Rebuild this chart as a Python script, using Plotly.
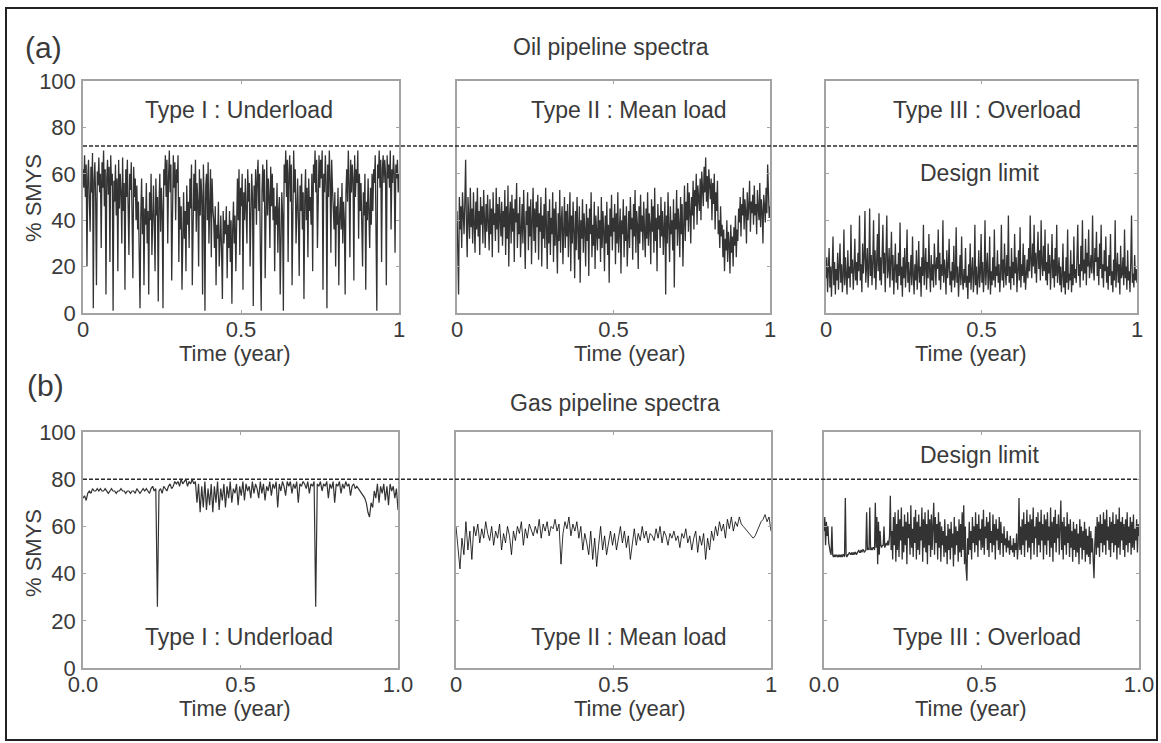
import numpy as np
import plotly.graph_objects as go

W, H = 1161, 743

# ---- load histories (% SMYS), evenly sampled over one year ----
oil_underload = [
    62, 54, 68, 50, 64, 20, 58, 66, 48, 35, 63, 52, 69, 2, 57, 65, 49, 12, 61, 55,
    67, 52, 60, 28, 65, 54, 70, 46, 62, 8, 58, 66, 51, 63, 22, 68, 55, 60, 1, 57,
    48, 64, 42, 58, 18, 66, 45, 60, 52, 30, 67, 44, 56, 10, 62, 50, 66, 47, 25, 60,
    53, 65, 46, 15, 63, 50, 58, 40, 55, 36, 48, 20, 2, 42, 58, 34, 50, 12, 45, 38,
    56, 30, 44, 8, 52, 40, 60, 25, 46, 55, 38, 18, 58, 42, 50, 5, 48, 60, 35, 54,
    44, 2, 62, 55, 68, 50, 66, 30, 58, 70, 52, 64, 14, 60, 68, 54, 65, 40, 62, 56,
    68, 22, 50, 36, 46, 10, 40, 52, 32, 44, 18, 55, 38, 48, 28, 58, 45, 64, 12, 52,
    60, 44, 66, 35, 56, 48, 20, 62, 42, 58, 50, 8, 64, 46, 1, 55, 60, 40, 65, 30,
    52, 62, 24, 58, 45, 40, 28, 46, 12, 38, 32, 48, 20, 36, 42, 26, 6, 44, 30, 40,
    34, 46, 15, 38, 28, 44, 22, 40, 4, 36, 48, 30, 42, 18, 50, 58, 40, 62, 25, 54,
    46, 60, 10, 52, 40, 58, 44, 30, 62, 48, 56, 20, 42, 60, 50, 3, 55, 45, 62, 38,
    58, 66, 44, 60, 24, 1, 52, 64, 48, 62, 15, 56, 66, 42, 58, 50, 28, 63, 46, 60,
    40, 54, 18, 46, 38, 56, 26, 44, 50, 8, 36, 52, 42, 1, 64, 56, 70, 50, 66, 22,
    60, 68, 48, 64, 12, 58, 70, 52, 62, 30, 46, 58, 40, 16, 55, 44, 60, 36, 52, 6,
    48, 62, 40, 54, 24, 58, 44, 50, 38, 60, 18, 64, 56, 70, 52, 66, 28, 62, 68, 54,
    66, 58, 70, 10, 60, 52, 68, 56, 2, 64, 50, 70, 58, 26, 66, 54, 44, 36, 52, 20,
    46, 38, 54, 12, 42, 50, 36, 56, 30, 48, 40, 8, 52, 62, 48, 70, 56, 24, 66, 52,
    64, 58, 14, 68, 50, 62, 56, 70, 32, 60, 44, 56, 38, 20, 52, 42, 60, 10, 48, 40,
    58, 46, 28, 54, 38, 60, 44, 62, 56, 68, 30, 1, 64, 58, 70, 54, 66, 22, 62, 68,
    56, 66, 60, 12, 68, 58, 64, 54, 70, 36, 62, 56, 68, 60, 26, 64, 58, 66, 52, 60,
]

oil_meanload = [
    44, 30, 8, 50, 36, 46, 28, 52, 40, 34, 48, 66, 38, 24, 50, 42, 32, 54, 37, 45,
    30, 52, 40, 26, 48, 36, 54, 33, 44, 25, 50, 38, 46, 30, 53, 42, 28, 47, 35, 51,
    40, 27, 49, 34, 45, 24, 52, 38, 43, 31, 54, 36, 47, 26, 50, 41, 33, 48, 29, 44,
    37, 53, 25, 46, 32, 55, 20, 42, 48, 30, 51, 35, 45, 22, 49, 39, 56, 28, 43, 34,
    50, 24, 41, 47, 30, 53, 36, 19, 44, 38, 52, 27, 46, 33, 49, 21, 40, 54, 31, 45,
    26, 48, 37, 51, 23, 43, 35, 50, 20, 42, 32, 47, 28, 54, 38, 19, 44, 30, 49, 25,
    41, 34, 52, 22, 45, 29, 48, 36, 17, 43, 31, 53, 26, 40, 46, 21, 38, 50, 28, 44,
    33, 47, 24, 39, 52, 18, 42, 30, 48, 35, 15, 44, 27, 50, 37, 23, 46, 13, 40, 32,
    49, 26, 43, 36, 20, 47, 31, 41, 16, 45, 34, 52, 24, 38, 29, 48, 19, 42, 35, 27,
    46, 32, 40, 22, 50, 28, 44, 36, 18, 42, 30, 48, 25, 38, 13, 45, 33, 51, 27, 41,
    35, 47, 21, 43, 30, 52, 26, 39, 45, 17, 40, 34, 49, 24, 42, 31, 46, 20, 38, 44,
    28, 50, 36, 41, 23, 47, 33, 53, 26, 44, 38, 19, 46, 30, 51, 35, 42, 27, 48, 37,
    24, 45, 32, 52, 29, 43, 38, 21, 49, 35, 46, 26, 54, 31, 41, 18, 47, 36, 42, 28,
    50, 33, 44, 25, 39, 48, 8, 42, 30, 52, 37, 22, 46, 34, 40, 27, 49, 11, 43, 36,
    53, 29, 45, 38, 24, 50, 34, 47, 20, 42, 55, 31, 48, 40, 56, 35, 52, 44, 30, 50,
    42, 57, 36, 53, 46, 60, 38, 55, 48, 44, 58, 40, 61, 50, 46, 63, 52, 67, 48, 59,
    45, 62, 54, 49, 58, 40, 56, 47, 60, 36, 52, 44, 57, 34, 40, 28, 46, 33, 38, 24,
    36, 18, 32, 27, 40, 22, 35, 30, 17, 38, 26, 33, 20, 37, 29, 42, 24, 36, 31, 45,
    39, 50, 33, 47, 42, 54, 36, 49, 44, 30, 52, 40, 46, 57, 35, 48, 43, 51, 38, 55,
    42, 47, 34, 53, 45, 40, 56, 37, 49, 44, 30, 51, 46, 39, 54, 43, 64, 48, 41, 46,
]

oil_overload = [
    15, 24, 9, 18, 28, 11, 20, 7, 16, 33, 12, 22, 8, 19, 14, 26, 10, 17, 30, 13,
    21, 9, 16, 36, 12, 24, 18, 8, 27, 15, 20, 11, 38, 17, 23, 10, 19, 32, 14, 22,
    12, 26, 18, 42, 14, 21, 9, 30, 17, 24, 44, 13, 20, 28, 11, 19, 45, 16, 25, 12,
    22, 40, 15, 27, 10, 20, 34, 18, 43, 14, 24, 12, 21, 38, 17, 26, 9, 23, 42, 15,
    19, 28, 11, 22, 35, 14, 25, 8, 18, 30, 13, 21, 10, 26, 16, 39, 12, 20, 7, 24,
    15, 28, 11, 19, 36, 13, 22, 9, 17, 25, 12, 33, 16, 8, 21, 14, 27, 10, 18, 31,
    13, 20, 7, 24, 16, 38, 12, 19, 28, 10, 22, 15, 34, 18, 9, 25, 14, 21, 11, 30,
    17, 12, 24, 19, 36, 14, 26, 10, 21, 16, 40, 13, 23, 18, 8, 27, 15, 20, 32, 12,
    18, 9, 22, 14, 29, 11, 16, 37, 13, 20, 7, 17, 25, 12, 33, 15, 10, 19, 13, 28,
    11, 16, 6, 21, 13, 30, 10, 18, 24, 9, 14, 38, 12, 20, 8, 15, 27, 11, 17, 34,
    13, 22, 9, 16, 40, 12, 19, 26, 10, 15, 33, 8, 18, 12, 24, 14, 36, 11, 20, 16,
    27, 13, 21, 9, 17, 38, 14, 23, 11, 30, 18, 12, 25, 16, 42, 13, 20, 10, 28, 15,
    22, 12, 34, 17, 24, 9, 19, 27, 14, 37, 11, 21, 16, 30, 13, 25, 10, 18, 23, 15,
    28, 18, 42, 22, 15, 30, 20, 38, 17, 26, 13, 24, 35, 19, 27, 14, 40, 21, 16, 29,
    18, 36, 14, 22, 12, 30, 17, 25, 10, 20, 34, 15, 23, 11, 28, 16, 38, 13, 19, 24,
    12, 20, 9, 16, 30, 11, 18, 8, 24, 13, 36, 10, 17, 14, 27, 9, 21, 12, 33, 15,
    19, 13, 24, 38, 16, 21, 11, 29, 18, 40, 14, 23, 17, 32, 12, 26, 20, 36, 15, 22,
    25, 17, 42, 20, 14, 28, 22, 35, 16, 24, 12, 30, 19, 38, 15, 21, 11, 27, 18, 33,
    13, 20, 10, 25, 16, 34, 12, 18, 9, 23, 14, 40, 11, 19, 26, 13, 21, 8, 29, 15,
    17, 24, 12, 36, 15, 20, 10, 27, 14, 18, 9, 22, 42, 13, 17, 11, 25, 14, 19, 13,
]

gas_underload = [
    72, 73, 71, 74, 75, 74, 76, 75, 75, 76,
    75, 76, 75, 75, 76, 75, 74, 75, 76, 75,
    75, 74, 75, 75, 76, 75, 75, 74, 75, 75,
    74, 75, 75, 74, 76, 75, 74, 75, 76, 75,
    76, 75, 74, 76, 77, 75, 76, 26, 75, 76,
    74, 77, 76, 75, 77, 78, 76, 77, 79, 78,
    79, 77, 80, 78, 79, 80, 77, 79, 78, 80,
    78, 79, 70, 78, 66, 77, 68, 79, 67, 76,
    69, 78, 66, 77, 70, 79, 67, 76, 71, 78,
    68, 77, 72, 79, 70, 76, 74, 78, 69, 77,
    73, 79, 71, 78, 75, 77, 72, 79, 74, 78,
    76, 72, 79, 74, 78, 71, 77, 75, 79, 73,
    78, 76, 79, 68, 78, 75, 79, 77, 73, 79,
    77, 79, 74, 78, 76, 79, 70, 78, 77, 79,
    78, 76, 79, 74, 78, 77, 79, 26, 78, 77,
    79, 75, 78, 77, 79, 72, 78, 76, 79, 70,
    78, 77, 79, 74, 78, 76, 79, 77, 78, 73,
    77, 78, 76, 77, 76, 75, 74, 73, 72, 70,
    66, 64, 70, 68, 75, 72, 78, 70, 77, 74,
    78, 71, 77, 69, 78, 75, 77, 72, 76, 67,
]

gas_meanload = [
    60, 52, 42, 55, 48, 62, 50, 58, 46, 60,
    56, 61, 53, 59, 55, 62, 57, 54, 60, 52,
    58, 55, 61, 50, 57, 53, 60, 56, 48, 58,
    54, 60, 57, 62, 52, 59, 55, 61, 58, 56,
    60, 57, 63, 55, 61, 58, 62, 56, 60, 59,
    63, 58, 61, 44, 57, 62, 59, 64, 56, 61,
    58, 62, 55, 60, 50, 57, 53, 48, 58, 46,
    55, 43, 52, 60, 50, 56, 48, 54, 58, 52,
    57, 50, 55, 60, 53, 58, 51, 56, 46, 54,
    59, 52, 57, 54, 60, 55, 58, 53, 57, 56,
    54, 59, 55, 60, 53, 58, 56, 52, 57, 55,
    58, 54, 56, 51, 57, 55, 59, 53, 56, 50,
    55, 58, 49, 56, 52, 57, 46, 55, 50, 58,
    54, 60, 56, 62, 58, 61, 55, 63, 59, 64,
    58, 62, 60, 64, 61, 60, 59, 58, 57, 56,
    55, 56, 58, 60, 62, 63, 65, 62, 64, 58,
]

gas_overload = [
    58, 64, 52, 62, 56, 60, 53, 50, 49, 48, 60, 48, 47, 48, 47, 48, 47, 47, 48, 47,
    48, 47, 48, 47, 48, 48, 47, 72, 48, 47, 48, 48, 49, 48, 48, 49, 48, 49, 48, 49,
    49, 48, 49, 49, 50, 49, 49, 50, 49, 50, 50, 49, 50, 50, 66, 50, 51, 50, 68, 50,
    51, 50, 51, 51, 50, 70, 51, 64, 44, 62, 48, 58, 52, 51, 52, 52, 60, 51, 52, 53,
    52, 54, 52, 56, 73, 50, 58, 46, 64, 52, 66, 45, 61, 50, 67, 47, 63, 54, 68, 46,
    60, 49, 65, 52, 62, 44, 66, 55, 61, 48, 69, 51, 59, 47, 64, 53, 67, 46, 62, 50,
    65, 48, 60, 54, 68, 45, 63, 51, 66, 49, 61, 44, 67, 52, 63, 47, 65, 50, 60, 70,
    48, 64, 53, 61, 46, 66, 51, 62, 45, 60, 52, 58, 47, 63, 49, 56, 44, 61, 50, 59,
    46, 62, 51, 57, 43, 64, 48, 60, 52, 58, 45, 63, 49, 61, 47, 66, 50, 69, 44, 60,
    42, 37, 55, 48, 62, 50, 58, 46, 64, 53, 60, 49, 66, 52, 61, 47, 65, 54, 59, 50,
    63, 51, 67, 48, 60, 55, 64, 50, 62, 47, 66, 53, 58, 49, 65, 52, 61, 46, 63, 54,
    59, 50, 64, 48, 62, 53, 57, 47, 60, 52, 55, 49, 58, 51, 54, 48, 56, 50, 52, 49,
    55, 47, 53, 50, 57, 46, 52, 72, 50, 60, 48, 63, 52, 66, 47, 61, 54, 67, 49, 62,
    51, 65, 46, 63, 53, 68, 48, 60, 55, 64, 47, 66, 52, 62, 49, 67, 54, 61, 46, 65,
    52, 63, 48, 66, 54, 60, 47, 68, 51, 62, 45, 64, 53, 67, 49, 61, 55, 65, 48, 63,
    71, 50, 62, 46, 64, 52, 60, 48, 66, 53, 61, 47, 63, 51, 58, 45, 62, 50, 59, 47,
    61, 49, 57, 44, 63, 51, 60, 46, 58, 50, 62, 45, 59, 48, 56, 47, 60, 44, 58, 49,
    55, 46, 38, 52, 60, 48, 64, 51, 62, 47, 65, 53, 61, 49, 66, 52, 63, 48, 67, 54,
    60, 50, 64, 47, 62, 53, 66, 49, 61, 52, 65, 46, 63, 51, 68, 48, 62, 54, 64, 50,
    61, 47, 63, 52, 66, 49, 60, 53, 64, 48, 62, 51, 65, 50, 59, 54, 63, 49, 61, 56,
]

design_limit_oil = 72
design_limit_gas = 80

y_ticks = [0, 20, 40, 60, 80, 100]
x_ticks = [0, 0.5, 1]
x_labels_int = ["0", "0.5", "1"]
x_labels_dec = ["0.0", "0.5", "1.0"]

# ---- layout geometry (pixels) ----
FONT = "Liberation Sans, Arial, sans-serif"
TXT = "#3a3a3a"
FRAME = "#a3a3a3"
TRACE = "rgba(0,0,0,0.8)"

rows = [
    dict(top=81, bottom=313, cols=[(83, 399), (457, 770), (826, 1137)]),
    dict(top=432, bottom=668, cols=[(83, 398), (456, 771), (824, 1139)]),
]
series = [
    [oil_underload, oil_meanload, oil_overload],
    [gas_underload, gas_meanload, gas_overload],
]
widths = [[1.3, 1.3, 1.3], [1.2, 1.0, 1.3]]
xlabels = [
    [x_labels_int, x_labels_int, x_labels_int],
    [x_labels_dec, x_labels_int, x_labels_dec],
]


def px(x):
    return x / W


def py(y):
    return 1 - y / H


fig = go.Figure()
layout = {}
n = 0
for r, row in enumerate(rows):
    for c, (x0, x1) in enumerate(row["cols"]):
        n += 1
        sx = "" if n == 1 else str(n)
        vals = series[r][c]
        t = np.linspace(0, 1, len(vals))
        fig.add_trace(go.Scatter(
            x=t, y=vals, mode="lines", xaxis="x" + sx, yaxis="y" + sx,
            line=dict(color=TRACE, width=widths[r][c]),
            showlegend=False, hoverinfo="skip",
        ))
        common = dict(
            showline=True, mirror="allticks", linecolor=FRAME, linewidth=1.5,
            ticks="inside", ticklen=3, tickcolor=FRAME, showgrid=False,
            zeroline=False, automargin=False,
            tickfont=dict(family=FONT, size=22, color=TXT),
        )
        layout["xaxis" + sx] = dict(
            domain=[px(x0), px(x1)], anchor="y" + sx, range=[0, 1],
            tickvals=x_ticks, ticktext=xlabels[r][c], ticklabelstandoff=-4,
            **common,
        )
        layout["yaxis" + sx] = dict(
            domain=[py(row["bottom"]), py(row["top"])], anchor="x" + sx,
            range=[0, 100], tickvals=y_ticks, showticklabels=(c == 0),
            ticklabelstandoff=1, **common,
        )

shapes = [
    # outer frame
    dict(type="rect", xref="paper", yref="paper", x0=px(6), x1=px(1157),
         y0=py(740), y1=py(8), line=dict(color="#222", width=2)),
    # design limits
    dict(type="line", xref="paper", yref="y", x0=px(83), x1=px(1137),
         y0=design_limit_oil, y1=design_limit_oil, layer="above",
         line=dict(color="#2a2a2a", width=1.6, dash="4px,2px")),
    dict(type="line", xref="paper", yref="y4", x0=px(83), x1=px(1139),
         y0=design_limit_gas, y1=design_limit_gas, layer="above",
         line=dict(color="#2a2a2a", width=1.6, dash="4px,2px")),
]


def label(text, x, y, size=23, angle=0):
    return dict(text=text, x=px(x), y=py(y), xref="paper", yref="paper",
                showarrow=False, xanchor="center", yanchor="middle",
                textangle=angle, font=dict(family=FONT, size=size, color=TXT))


annotations = [
    label("(a)", 43, 47, size=30),
    label("Oil pipeline spectra", 611, 47),
    label("Type I : Underload", 239, 110),
    label("Type II : Mean load", 629, 110),
    label("Type III : Overload", 987, 110),
    label("Design limit", 979, 173),
    label("Time (year)", 235, 353, size=22),
    label("Time (year)", 630, 353, size=22),
    label("Time (year)", 971, 353, size=22),
    label("% SMYS", 33, 198, size=22, angle=-90),
    label("(b)", 45, 385, size=30),
    label("Gas pipeline spectra", 615, 403),
    label("Type I : Underload", 239, 637),
    label("Type II : Mean load", 629, 637),
    label("Type III : Overload", 987, 637),
    label("Design limit", 979, 455),
    label("Time (year)", 235, 708, size=22),
    label("Time (year)", 630, 708, size=22),
    label("Time (year)", 971, 708, size=22),
    label("% SMYS", 33, 553, size=22, angle=-90),
]

fig.update_layout(
    width=W, height=H,
    margin=dict(l=0, r=0, t=0, b=0, pad=0, autoexpand=False),
    paper_bgcolor="white", plot_bgcolor="white",
    shapes=shapes, annotations=annotations, **layout,
)

fig.write_html("out.html")
